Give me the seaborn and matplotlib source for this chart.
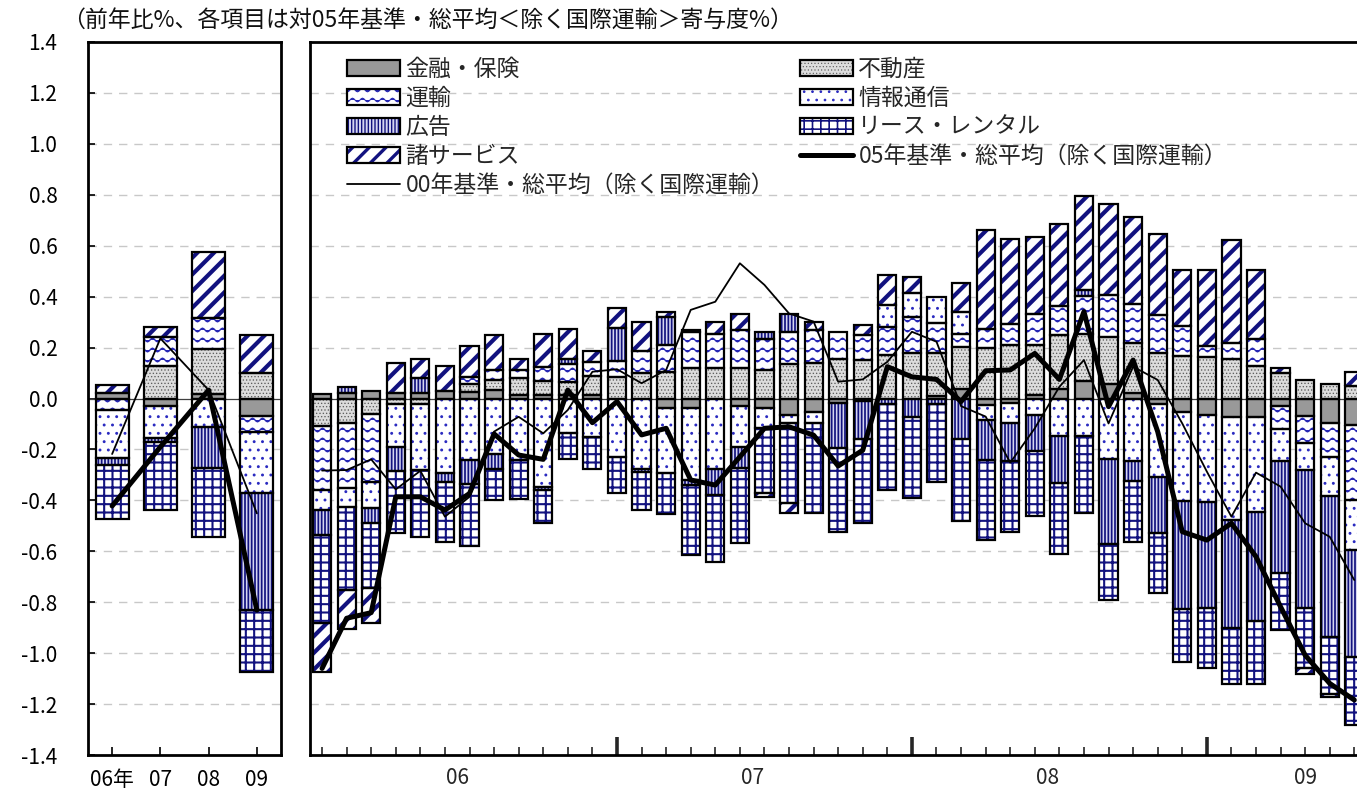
import numpy as np
import matplotlib
matplotlib.use("Agg")
import matplotlib.pyplot as plt
import matplotlib.hatch as mhatch
import matplotlib.transforms as mtrans
from matplotlib.path import Path
from matplotlib.patches import Patch, Rectangle
from matplotlib.lines import Line2D
from matplotlib.legend_handler import HandlerTuple
import seaborn as sns

# ---------------- data ----------------
categories = ["金融・保険", "不動産", "運輸", "情報通信", "広告", "リース・レンタル", "諸サービス"]

# annual (06年, 07, 08, 09)
year_labels = ["06年", "07", "08", "09"]
y_fin = [0.02, -0.03, 0.017, -0.069]
y_fudosan = [0.0, 0.126, 0.179, 0.101]
y_unyu = [-0.046, 0.115, 0.122, -0.062]
y_joho = [-0.186, -0.127, -0.111, -0.242]
y_koukoku = [-0.03, -0.013, -0.161, -0.458]
y_lease = [-0.213, -0.268, -0.271, -0.242]
y_service = [0.033, 0.039, 0.258, 0.148]
y_total05 = [-0.422, -0.19, 0.033, -0.831]
y_total00 = [-0.218, 0.236, 0.033, -0.451]

# monthly Jan-2006 .. Jul-2009
month_years = ["06", "07", "08", "09"]
month_year_centers = [5.5, 17.5, 29.5, 40.0]
m_fin = [0.016, 0.022, 0.03, 0.02, 0.02, 0.028, 0.026, 0.033, 0.015, 0.013, 0.013, 0.013,
         0.0, 0.0, -0.037, -0.038, 0.0, -0.03, -0.038, -0.065, -0.052, -0.016, -0.01, 0.0,
         0.0, 0.009, 0.039, -0.026, -0.017, 0.013, 0.039, 0.069, 0.056, 0.02, -0.022, -0.052,
         -0.065, -0.072, -0.072, -0.03, -0.069, -0.095, -0.105]
m_fudosan = [-0.107, -0.098, -0.059, -0.022, -0.02, 0.0, 0.03, 0.039, 0.065, 0.056, 0.052, 0.075,
             0.085, 0.099, 0.105, 0.118, 0.118, 0.118, 0.111, 0.137, 0.14, 0.157, 0.153, 0.17,
             0.177, 0.168, 0.164, 0.197, 0.21, 0.196, 0.209, 0.183, 0.186, 0.196, 0.18, 0.167,
             0.164, 0.157, 0.127, 0.101, 0.073, 0.057, 0.05]
m_unyu = [-0.253, -0.255, -0.268, 0.0, 0.0, 0.0, 0.03, 0.039, 0.032, 0.055, 0.069, 0.057,
          0.063, 0.089, 0.105, 0.144, 0.137, 0.151, 0.124, 0.124, 0.128, 0.105, 0.096, 0.111,
          0.144, 0.118, 0.05, 0.076, 0.082, 0.122, 0.114, 0.149, 0.164, 0.157, 0.148, 0.118,
          0.043, 0.059, 0.105, -0.088, -0.105, -0.134, -0.295]
m_joho = [-0.078, -0.072, -0.104, -0.17, -0.261, -0.292, -0.242, -0.216, -0.242, -0.347, -0.137, -0.151,
          -0.229, -0.275, -0.255, -0.283, -0.275, -0.16, -0.079, -0.033, -0.046, 0.0, 0.0, 0.085,
          0.092, 0.105, 0.088, -0.059, -0.081, -0.065, -0.148, -0.148, -0.236, -0.246, -0.288, -0.35,
          -0.34, -0.406, -0.373, -0.127, -0.105, -0.154, -0.196]
m_koukoku = [-0.098, 0.022, -0.056, -0.092, 0.059, -0.035, -0.092, -0.059, 0.0, -0.013, 0.022, 0.0,
             0.13, -0.015, 0.111, -0.02, -0.105, -0.081, 0.026, 0.072, 0.0, -0.18, -0.15, -0.02,
             -0.074, -0.02, -0.16, -0.157, -0.148, -0.14, -0.183, 0.024, -0.334, -0.077, -0.217, -0.423,
             -0.419, -0.425, -0.428, -0.44, -0.543, -0.553, -0.419]
m_lease = [-0.347, -0.328, -0.258, -0.243, -0.262, -0.236, -0.246, -0.124, -0.154, -0.128, -0.102, -0.124,
           -0.141, -0.149, -0.163, -0.275, -0.262, -0.298, -0.255, -0.314, -0.351, -0.327, -0.33, -0.34,
           -0.318, -0.308, -0.32, -0.312, -0.278, -0.257, -0.28, -0.301, -0.22, -0.24, -0.238, -0.209,
           -0.236, -0.219, -0.249, -0.225, -0.238, -0.223, -0.268]
m_service = [-0.19, -0.154, -0.135, 0.12, 0.075, 0.1, 0.122, 0.137, 0.042, 0.128, 0.118, 0.04,
             0.079, 0.114, 0.02, 0.007, 0.046, 0.062, -0.013, -0.037, 0.033, 0.0, 0.039, 0.118,
             0.065, 0.0, 0.114, 0.389, 0.336, 0.304, 0.325, 0.369, 0.357, 0.338, 0.318, 0.22,
             0.297, 0.408, 0.272, 0.017, -0.022, -0.013, 0.055]
m_total05 = [-1.06, -0.863, -0.841, -0.386, -0.386, -0.438, -0.373, -0.139, -0.222, -0.239, 0.033, -0.095,
             -0.012, -0.143, -0.117, -0.32, -0.34, -0.229, -0.117, -0.111, -0.144, -0.265, -0.203, 0.125,
             0.085, 0.075, -0.012, 0.109, 0.112, 0.177, 0.075, 0.341, -0.032, 0.151, -0.13, -0.523,
             -0.556, -0.49, -0.621, -0.818, -1.008, -1.119, -1.184]
m_total00 = [-0.283, -0.281, -0.239, -0.357, -0.284, -0.464, -0.386, -0.13, -0.072, -0.137, -0.045, 0.105,
             0.115, 0.06, 0.112, 0.348, 0.38, 0.531, 0.446, 0.334, 0.302, 0.066, 0.075, 0.144,
             0.262, 0.223, -0.03, -0.071, -0.252, -0.117, 0.046, 0.151, -0.098, 0.125, 0.073, -0.098,
             -0.287, -0.464, -0.291, -0.346, -0.49, -0.543, -0.713]

line05_label = "05年基準・総平均（除く国際運輸）"
line00_label = "00年基準・総平均（除く国際運輸）"
title_text = "（前年比%、各項目は対05年基準・総平均＜除く国際運輸＞寄与度%）"

# ---------------- custom wave hatch (replaces the 'o' hatch) ----------------
class WaveHatch(mhatch.HatchPatternBase):
    seg = 80
    periods = 10

    def __init__(self, hatch, density):
        self.num_lines = 10 * hatch.count("o")
        self.num_vertices = (self.num_lines + 1) * (self.seg + 1) if self.num_lines else 0

    def set_vertices_and_codes(self, vertices, codes):
        n = self.num_lines
        xs = np.linspace(0.0, 1.0, self.seg + 1)
        amp = 0.018
        k = 0
        for i in range(n + 1):
            y0 = i / n
            vertices[k:k + self.seg + 1, 0] = xs
            vertices[k:k + self.seg + 1, 1] = y0 + amp * np.sin(2 * np.pi * self.periods * xs)
            codes[k] = Path.MOVETO
            codes[k + 1:k + self.seg + 1] = Path.LINETO
            k += self.seg + 1

mhatch._hatch_types[:] = [WaveHatch if t is mhatch.SmallCircles else t
                          for t in mhatch._hatch_types]

# ---------------- styling ----------------
sns.set_theme(style="white")
plt.rcParams["font.family"] = ["Noto Sans CJK JP", "DejaVu Sans"]
plt.rcParams["axes.unicode_minus"] = False

NAVY = "#12127f"
styles = {
    "金融・保険": dict(face="#999999", hatch=None, hc="#999999", hlw=1.0),
    "不動産": dict(face="#dcdcdc", hatch=".....", hc="#5e5e5e", hlw=0.55),
    "運輸": dict(face="white", hatch="o", hc="#2828b4", hlw=1.0),
    "情報通信": dict(face="white", hatch="..", hc="#2a2ac0", hlw=0.9),
    "広告": dict(face="#d6d6f0", hatch="|||||", hc=NAVY, hlw=1.25),
    "リース・レンタル": dict(face="white", hatch="++", hc=NAVY, hlw=1.5),
    "諸サービス": dict(face="white", hatch="//", hc=NAVY, hlw=3.0),
}
hatch_lw = {st["hatch"]: st["hlw"] for st in styles.values() if st["hatch"]}
EDGE_LW = 1.6


def styled_bar(ax, x, h, width, bottom, st):
    plt.rcParams["hatch.linewidth"] = st["hlw"]
    fill = ax.bar(x, h, width, bottom=bottom, color=st["face"], edgecolor=st["hc"],
                  linewidth=0, hatch=st["hatch"], zorder=2)
    for p in fill:
        if hasattr(p, "set_hatch_linewidth"):
            p.set_hatch_linewidth(st["hlw"])
    ax.bar(x, h, width, bottom=bottom, fill=False, edgecolor="black",
           linewidth=EDGE_LW, zorder=3)


def draw_stack(ax, comps, width):
    n = len(comps[0][1])
    x = np.arange(n)
    pos = np.zeros(n)
    neg = np.zeros(n)
    for name, vals in comps:
        v = np.asarray(vals, dtype=float)
        base = np.where(v >= 0, pos, neg)
        keep = v != 0
        if keep.any():
            styled_bar(ax, x[keep], v[keep], width, base[keep], styles[name])
        pos = pos + np.where(v > 0, v, 0)
        neg = neg + np.where(v < 0, v, 0)


W, H = 1357, 796
fig = plt.figure(figsize=(W / 100, H / 100), dpi=100)
axL = fig.add_axes([88 / W, (H - 755) / H, (281 - 88) / W, (755 - 42) / H])
axR = fig.add_axes([310 / W, (H - 755) / H, (1416 - 310) / W, (755 - 42) / H])

yticks = np.round(np.arange(-1.4, 1.401, 0.2), 1) + 0.0
for ax in (axL, axR):
    ax.set_ylim(-1.4, 1.4)
    ax.set_yticks(yticks)
    for yv in yticks:
        if abs(yv) > 1e-9 and abs(yv) < 1.39:
            ax.axhline(yv, color="#c8c8c8", lw=1.0, ls=(0, (6, 5)), zorder=0)
    ax.axhline(0, color="#404040", lw=0.9, zorder=1)
    for s in ax.spines.values():
        s.set_linewidth(2.0)
        s.set_color("black")

# left panel (annual)
annual = [("金融・保険", y_fin), ("不動産", y_fudosan), ("運輸", y_unyu), ("情報通信", y_joho),
          ("広告", y_koukoku), ("リース・レンタル", y_lease), ("諸サービス", y_service)]
draw_stack(axL, annual, 0.68)
xa = np.arange(len(y_total05))
sns.lineplot(x=xa, y=y_total00, ax=axL, color="black", linewidth=1.3, zorder=5, legend=False)
sns.lineplot(x=xa, y=y_total05, ax=axL, color="black", linewidth=3.6, zorder=6, legend=False)
axL.set_xlim(-0.5, len(xa) - 0.5)
axL.set_xticks(xa)
axL.set_xticklabels(year_labels)
axL.set_yticklabels([f"{abs(v):.1f}" if abs(v) < 1e-9 else f"{v:.1f}" for v in yticks])
axL.tick_params(axis="y", direction="in", length=5, width=1.2, pad=22, labelsize=15,
                left=True, right=False, colors="black")
axL.tick_params(axis="x", direction="in", length=6, width=1.2, pad=10, labelsize=15,
                bottom=True, colors="black")
axL.set_xlabel("")
axL.set_ylabel("")

# right panel (monthly)
monthly = [("金融・保険", m_fin), ("不動産", m_fudosan), ("運輸", m_unyu), ("情報通信", m_joho),
           ("広告", m_koukoku), ("リース・レンタル", m_lease), ("諸サービス", m_service)]
draw_stack(axR, monthly, 0.74)
xm = np.arange(len(m_total05))
sns.lineplot(x=xm, y=m_total00, ax=axR, color="black", linewidth=1.3, zorder=5, legend=False)
sns.lineplot(x=xm, y=m_total05, ax=axR, color="black", linewidth=3.6, zorder=6, legend=False)
axR.set_xlim(-0.49, 44.51)
axR.set_xticks([12, 24, 36])
axR.set_xticklabels(["", "", ""])
axR.set_xticks(np.arange(45), minor=True)
axR.tick_params(axis="x", which="major", direction="in", length=13, width=2.6, bottom=True)
axR.tick_params(axis="x", which="minor", direction="in", length=5.5, width=1.2, bottom=True)
axR.tick_params(axis="y", left=False, labelleft=False)
axR.set_xlabel("")
axR.set_ylabel("")
axR.spines["right"].set_visible(False)
trans = mtrans.blended_transform_factory(axR.transData, axR.transAxes)
for lab, c in zip(month_years, month_year_centers):
    axR.text(c, -23 / 713, lab, transform=trans, ha="center", va="center", fontsize=15)

# legend
def handle(name):
    st = styles[name]
    h1 = Patch(facecolor=st["face"], edgecolor=st["hc"], hatch=st["hatch"], linewidth=0)
    h2 = Patch(facecolor="none", edgecolor="black", linewidth=EDGE_LW)
    return (h1, h2)

col1 = ["金融・保険", "運輸", "広告", "諸サービス"]
col2 = ["不動産", "情報通信", "リース・レンタル"]
h_col1 = [handle(n) for n in col1] + [Line2D([], [], color="black", lw=1.3)]
l_col1 = col1 + [line00_label]
h_col2 = [handle(n) for n in col2] + [Line2D([], [], color="black", lw=3.6)]
l_col2 = col2 + [line05_label]
common = dict(loc="upper left", frameon=False, fontsize=16.5, borderpad=0, borderaxespad=0,
              handlelength=2.3, handleheight=0.66, handletextpad=0.25, labelspacing=0.26,
              handler_map={tuple: HandlerTuple(ndivide=1, pad=0)})
leg1 = axR.legend(h_col1, l_col1, bbox_to_anchor=(347 / W, 1 - 58 / H),
                  bbox_transform=fig.transFigure, **common)
axR.add_artist(leg1)
leg2 = axR.legend(h_col2, l_col2, bbox_to_anchor=(800 / W, 1 - 58 / H),
                  bbox_transform=fig.transFigure, **common)
for leg in (leg1, leg2):
    for p in leg.findobj(Rectangle):
        hh = p.get_hatch()
        if hh and hh in hatch_lw and hasattr(p, "set_hatch_linewidth"):
            p.set_hatch_linewidth(hatch_lw[hh] * 0.8)

fig.text(62 / W, 1 - 20 / H, title_text, ha="left", va="center", fontsize=16.5, color="#111111")

fig.savefig("out.png", dpi=100)
